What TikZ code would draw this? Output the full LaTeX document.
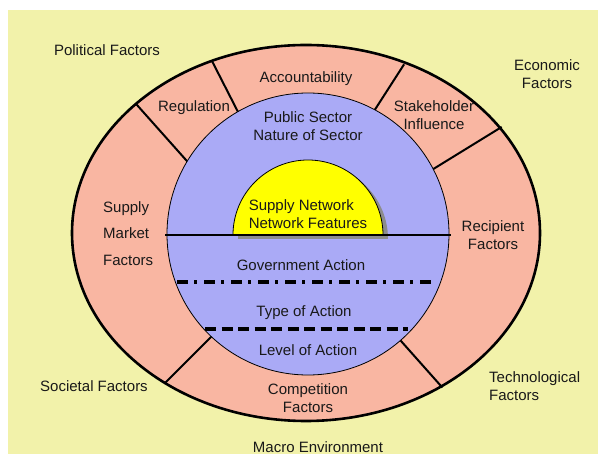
\documentclass[tikz,border=0pt]{standalone}
\usepackage{fontspec}
\setmainfont{Liberation Sans}
\definecolor{bg}{RGB}{242,242,170}
\definecolor{ring}{RGB}{249,182,162}
\definecolor{inner}{RGB}{170,170,246}
\definecolor{core}{RGB}{255,255,0}
\definecolor{shadowgray}{RGB}{140,140,140}
\begin{document}
\begin{tikzpicture}[x=1pt,y=-1pt,
  lbl/.style={font=\fontsize{15}{18}\selectfont, align=center, inner sep=0pt, text=black!90},
  divider/.style={line width=2pt, shorten <=-4pt, shorten >=-2pt},
  dashdotline/.style={line width=3.3pt, dash pattern=on 11pt off 6pt on 3pt off 7pt},
  dashline/.style={line width=3.3pt, dash pattern=on 11pt off 5.5pt}]
\useasboundingbox (0,0) rectangle (598,454);
\fill[bg] (8,10) rectangle (598,454);
% outer ring
\coordinate (E) at (306,233);
\fill[ring] (E) ellipse [x radius=234pt, y radius=188pt];
% dividers (inner end on circle, outer end on ellipse)
\coordinate (d1i) at (186,160); \coordinate (d1o) at (137,105);
\coordinate (d2i) at (237,110); \coordinate (d2o) at (213,63);
\coordinate (d3i) at (376,108); \coordinate (d3o) at (403,66);
\coordinate (d4i) at (435,168); \coordinate (d4o) at (500,128);
\coordinate (d5i) at (210,338); \coordinate (d5o) at (166,382);
\coordinate (d6i) at (401,341); \coordinate (d6o) at (441,386);
\foreach \k in {1,...,6} \draw[divider] (d\k i) -- (d\k o);
\draw[line width=2.6pt] (E) ellipse [x radius=234pt, y radius=188pt];
% inner circle
\coordinate (C) at (308,234);
\filldraw[fill=inner, draw=black, line width=0.8pt] (C) circle [radius=141pt];
% core semicircle with shadow
\fill[shadowgray] (238,239) arc [start angle=180, end angle=0, radius=75pt] -- cycle;
\filldraw[fill=core, draw=black, line width=0.8pt] (233,235) arc [start angle=180, end angle=0, radius=75pt] -- cycle;
% horizontal line
\coordinate (hl) at (165,235); \coordinate (hr) at (451,235);
\draw[line width=2pt] (hl) -- (hr);
\coordinate (ddl) at (177,282); \coordinate (ddr) at (434,282);
\draw[dashdotline] (ddl) -- (ddr);
\coordinate (dl) at (205,329); \coordinate (dr) at (408,329);
\draw[dashline] (dl) -- (dr);
% labels
\node[lbl] (pol) at (107,50) {Political Factors};
\node[lbl] (eco) at (547,74) {Economic\\Factors};
\node[lbl] (acc) at (306,79) {Accountability};
\node[lbl] (reg) at (194,108) {Regulation};
\node[lbl] (pub) at (308,126) {Public Sector\\Nature of Sector};
\node[lbl] (stk) at (434,115) {Stakeholder\\Influence};
\node[lbl, align=left] (snf) at (308,214) {Supply Network\\Network Features};
\node[lbl, align=left, anchor=west, font=\fontsize{15}{26.5}\selectfont] (smf) at (103,233.5) {Supply\\Market\\Factors};
\node[lbl] (rec) at (493,235) {Recipient\\Factors};
\node[lbl] (gov) at (301,265) {Government Action};
\node[lbl] (typ) at (304,313) {Type of Action};
\node[lbl] (lev) at (308,350) {Level of Action};
\node[lbl] (com) at (308,398) {Competition\\Factors};
\node[lbl] (soc) at (94,386) {Societal Factors};
\node[lbl, align=left, anchor=west] (tec) at (489,386) {Technological\\Factors};
\node[lbl] (mac) at (318,447) {Macro Environment};
\end{tikzpicture}
\end{document}
